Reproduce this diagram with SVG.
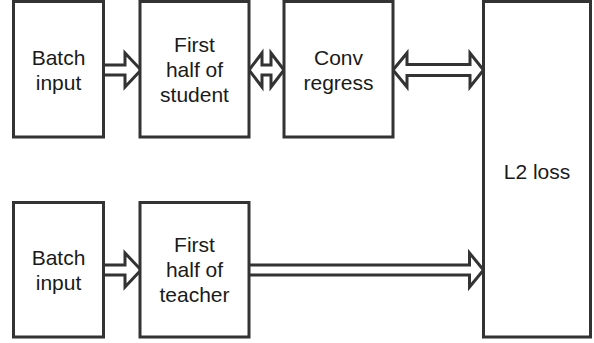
<svg xmlns="http://www.w3.org/2000/svg" width="594" height="343" viewBox="0 0 594 343">
<style>
.box{fill:#fff;stroke:#333;stroke-width:3}
.arr{fill:#fff;stroke:#333;stroke-width:3;stroke-linejoin:miter;stroke-miterlimit:10}
text{font-family:"Liberation Sans",Arial,sans-serif;font-size:21px;fill:#1a1a1a;text-anchor:middle}
</style>
<rect width="594" height="343" fill="#fff"/>
<g id="connectors">
<path class="arr" d="M103.5,65 H125 V53 L141,70 L125,87 V75 H103.5"/>
<path class="arr" d="M249,70 L262,53 V65 H271 V53 L284,70 L271,87 V75 H262 V87 Z"/>
<path class="arr" d="M393,70 L407,53 V64.5 H470 V53 L483.5,70 L470,87 V75.5 H407 V87 Z"/>
<path class="arr" d="M103.5,265 H125 V253 L141,270 L125,287 V275 H103.5"/>
<path class="arr" d="M249,265 H469.5 V253 L483.5,270 L469.5,287 V275 H249"/>
</g>
<g id="batch1"><rect class="box" x="13.5" y="1.5" width="90" height="135.5"/><text x="58.5" y="64.5">Batch</text><text x="58.5" y="89.5">input</text></g>
<g id="student"><rect class="box" x="140" y="1.5" width="109" height="135.5"/><text x="194.5" y="52">First</text><text x="194.5" y="77">half of</text><text x="194.5" y="102">student</text></g>
<g id="conv"><rect class="box" x="284" y="1.5" width="109" height="135.5"/><text x="338.5" y="64.5">Conv</text><text x="338.5" y="89.5">regress</text></g>
<g id="l2"><rect class="box" x="483.5" y="1.5" width="107" height="335.5"/><text x="537" y="178.5">L2 loss</text></g>
<g id="batch2"><rect class="box" x="13.5" y="202.5" width="90" height="134.5"/><text x="58.5" y="265">Batch</text><text x="58.5" y="290">input</text></g>
<g id="teacher"><rect class="box" x="140" y="202.5" width="109" height="134.5"/><text x="194.5" y="252">First</text><text x="194.5" y="277">half of</text><text x="194.5" y="302">teacher</text></g>
</svg>
